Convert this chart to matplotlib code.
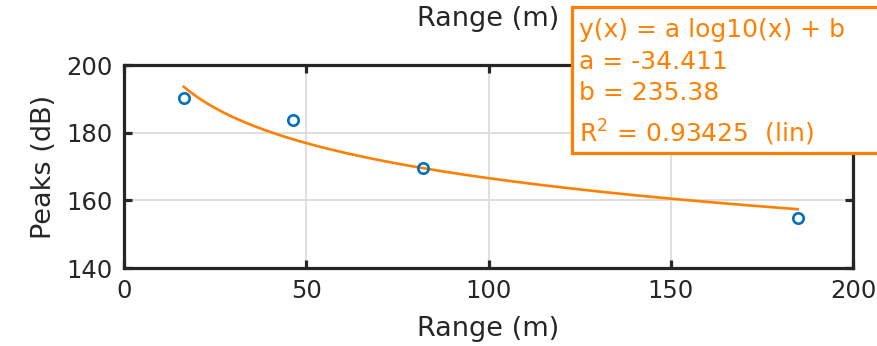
import numpy as np
import matplotlib
matplotlib.use("Agg")
import matplotlib.pyplot as plt
from matplotlib.patches import Rectangle

# Measured peaks against range
range_m = [16.4, 46.5, 82.1, 184.8]
peaks_db = [190.3, 183.7, 169.6, 154.7]

# Logarithmic fit coefficients: y = a*log10(x) + b
fit_a = -34.411
fit_b = 235.38
fit_r2 = 0.93425

x_ticks = [0, 50, 100, 150, 200]
y_ticks = [140, 160, 180, 200]

BLUE = "#0072BD"
ORANGE = "#FF8000"
DARK = "#262626"

plt.rcParams["font.family"] = ["DejaVu Sans"]

W, H = 877, 346
fig = plt.figure(figsize=(W / 100, H / 100), dpi=100)
fig.patch.set_facecolor("white")

ax_l, ax_r, ax_t, ax_b = 124, 853, 65, 268
ax = fig.add_axes([ax_l / W, 1 - ax_b / H, (ax_r - ax_l) / W, (ax_b - ax_t) / H])

ax.plot(range_m, peaks_db, linestyle="none", marker="o", ms=7.5,
        mfc="none", mec=BLUE, mew=1.9, zorder=3)

xf = np.linspace(min(range_m), max(range_m), 300)
ax.plot(xf, fit_a * np.log10(xf) + fit_b, color=ORANGE, lw=1.9, zorder=2)

ax.set_xlim(0, 200)
ax.set_ylim(140, 200)
ax.set_xticks(x_ticks)
ax.set_yticks(y_ticks)
ax.grid(True, color="#dcdcdc", lw=1.3)
ax.set_axisbelow(True)

for sp in ax.spines.values():
    sp.set_color(DARK)
    sp.set_linewidth(2.3)
ax.tick_params(direction="in", length=6, width=2.3, color=DARK,
               top=True, right=True, labelsize=17.5, labelcolor=DARK, pad=8)

ax.set_xlabel("Range (m)", fontsize=19.5, color=DARK, labelpad=9)
ax.set_ylabel("Peaks (dB)", fontsize=19.5, color=DARK, labelpad=7)
ax.set_title("Range (m)", fontsize=19.5, color=DARK, pad=28)

# Fit annotation box
bx_l, bx_t, bx_b = 572, 7.5, 153
box = Rectangle((bx_l / W, 1 - bx_b / H), (W + 20 - bx_l) / W, (bx_b - bx_t) / H,
                transform=fig.transFigure, facecolor="white", edgecolor=ORANGE,
                lw=2.3, clip_on=False, zorder=10)
fig.add_artist(box)

lines = [
    ("y(x) = a log10(x) + b", 37),
    (f"a = {fit_a:.3f}", 69),
    (f"b = {fit_b:.2f}", 100.5),
    (rf"R$^2$ = {fit_r2:.5f}  (lin)", 142),
]
for txt, base in lines:
    fig.text(579 / W, 1 - base / H, txt, fontsize=18, color=ORANGE,
             ha="left", va="baseline", zorder=11)

fig.savefig("out.png", dpi=100, facecolor="white")
